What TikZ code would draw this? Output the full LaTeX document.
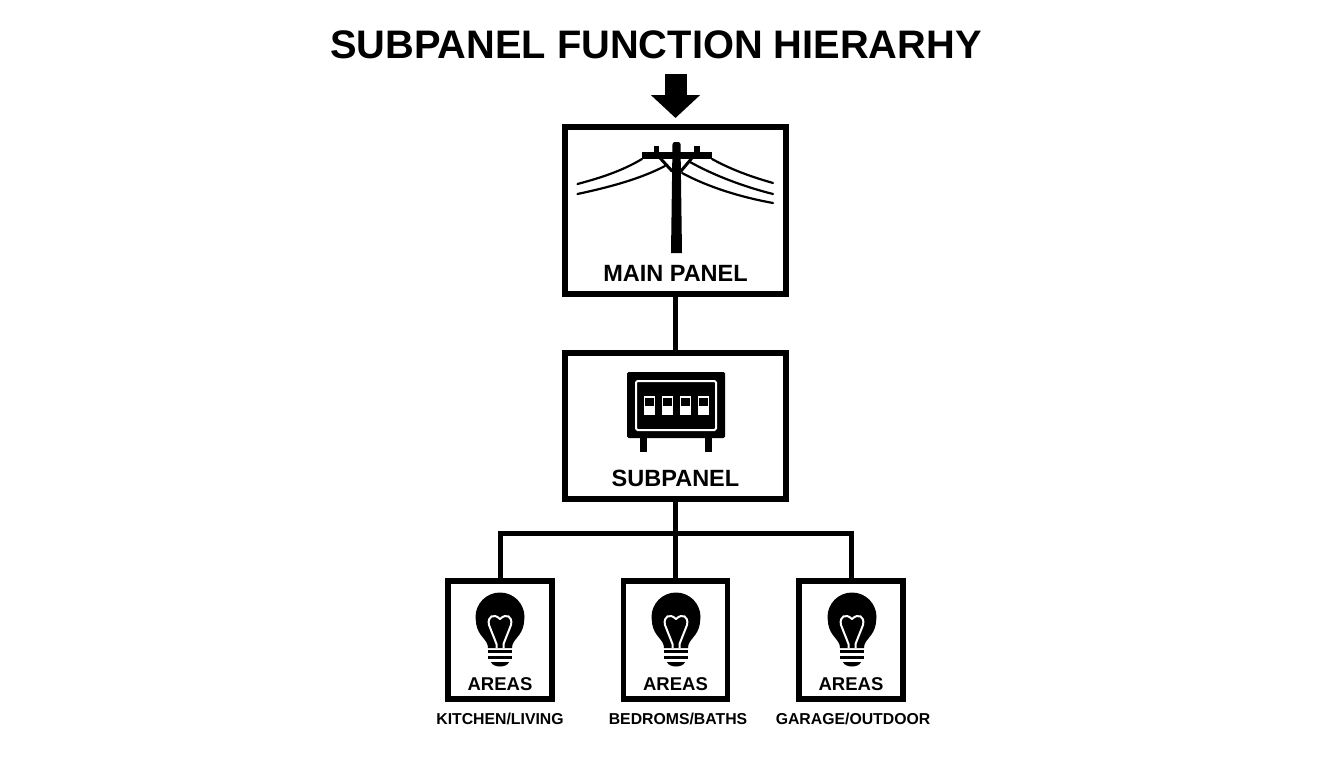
\documentclass[tikz,border=0pt]{standalone}
\usepackage{fontspec}
\setmainfont{Liberation Sans}
\usetikzlibrary{arrows.meta, positioning, calc}

\begin{document}
\begin{tikzpicture}[
  x=1pt, y=-1pt,
  panel/.style={rectangle, draw=black, fill=white, line width=6pt, minimum width=221pt},
  areabox/.style={rectangle, draw=black, fill=white, line width=5.5pt, minimum width=104pt, minimum height=118pt},
  panellabel/.style={font=\fontsize{23.5}{24}\selectfont\bfseries, inner sep=0pt},
  arealabel/.style={font=\fontsize{18.5}{19}\selectfont\bfseries, inner sep=0pt},
  roomlabel/.style={font=\fontsize{15.8}{16}\selectfont\bfseries, inner sep=0pt},
  wire/.style={draw=black, line width=5pt},
  bigarrow/.style={-{Triangle[length=23pt, width=48pt]}, line width=22pt, shorten >=6pt},
  cable/.style={line width=2.2pt, line cap=round},
  bulb/.pic={
    \fill (0,0) circle (24.5);
    \fill (-24,6) .. controls (-22,20) and (-12,22) .. (-12,31) -- (12,31) .. controls (12,22) and (22,20) .. (24,6) -- cycle;
    \draw[white, line width=2pt, line join=round] (-3.5,31) -- (-3.5,27) -- (-11,8) .. controls (-13,-1) and (-6,-4) .. (0,2)
      .. controls (6,-4) and (13,-1) .. (11,8) -- (3.5,27) -- (3.5,31);
    \fill (-12,33) rectangle (12,36);
    \fill (-12,39) rectangle (12,42);
    \fill (-9,45) -- (9,45) .. controls (7,51) and (-7,51) .. (-9,45) -- cycle;
  }
]
  \useasboundingbox (0,0) rectangle (1344,768);

  % Title
  \node[font=\fontsize{39.8}{40}\selectfont\bfseries, inner sep=0pt] (title) at (656,45) {SUBPANEL FUNCTION HIERARHY};

  % Panels
  \node[panel, minimum height=167pt] (main) at (675.5,210.5) {};
  \node[panel, minimum height=146pt, below=53pt of main] (sub) {};

  % Areas
  \node[areabox, below=76pt of sub] (bedrooms) {};
  \node[areabox, left=66pt of bedrooms] (kitchen) {};
  \node[areabox, right=66pt of bedrooms] (garage) {};

  % Arrows
  \coordinate (arrowtop) at (675.5,74);
  \coordinate (bus) at (675.5,533.5);
  \draw[bigarrow] (arrowtop) -- (main.north);
  \draw[wire] (main.south) -- (sub.north);
  \draw[wire] (sub.south) -- (bedrooms.north);
  \draw[wire] (bus) -| (kitchen.north);
  \draw[wire] (bus) -| (garage.north);

  % Pole
  \fill (672.5,144) -- (674,142) -- (679,142) -- (680.5,144) -- (682,253) -- (671,253) -- cycle;
  \fill (642,152) rectangle (712,159);
  \fill (654,146) rectangle (659,152);
  \fill (694,146) rectangle (700,152);
  \draw[cable, line width=3pt] (660,158) -- (672,171);
  \draw[cable, line width=3pt] (692,158) -- (681,171);
  \draw[cable] (642,159) .. controls (622,171) and (600,178) .. (577.5,184);
  \draw[cable] (665,166) .. controls (640,179) and (610,187) .. (577.5,194);
  \draw[cable] (712,159) .. controls (732,170) and (752,177) .. (773,183);
  \draw[cable] (690,162) .. controls (715,176) and (745,187) .. (773,194);
  \draw[cable] (682,173) .. controls (708,187) and (740,197) .. (773,203);

  % Breaker box
  \fill[rounded corners=1.5pt] (627,372) rectangle (725,438);
  \draw[white, line width=2pt, rounded corners=1.5pt] (636,381) rectangle (716,430);
  \fill (640,438) rectangle (647,452);
  \fill (705,438) rectangle (712,452);
  \foreach \x in {643.5,661.5,679.5,697.5} {
    \fill[white] (\x,396) rectangle ++(11.5,19);
    \fill (\x+1,397.5) rectangle ++(9.5,8);
  }

  % Bulbs
  \foreach \x in {500,676,852} {
    \pic at (\x,617) {bulb};
  }

  % Labels
  \node[panellabel] (mainlabel) at ([yshift=24pt]main.south) {MAIN PANEL};
  \node[panellabel] (sublabel) at ([yshift=24pt]sub.south) {SUBPANEL};
  \node[arealabel] (kitchenlabel) at ([yshift=17.5pt]kitchen.south) {AREAS};
  \node[arealabel] (bedroomslabel) at ([yshift=17.5pt]bedrooms.south) {AREAS};
  \node[arealabel] (garagelabel) at ([yshift=17.5pt]garage.south) {AREAS};
  \node[roomlabel] (kitchenroom) at ([yshift=-17pt]kitchen.south) {KITCHEN/LIVING};
  \node[roomlabel] (bedroomsroom) at ([xshift=2.5pt, yshift=-17pt]bedrooms.south) {BEDROMS/BATHS};
  \node[roomlabel] (garageroom) at ([xshift=2pt, yshift=-17pt]garage.south) {GARAGE/OUTDOOR};
\end{tikzpicture}
\end{document}
